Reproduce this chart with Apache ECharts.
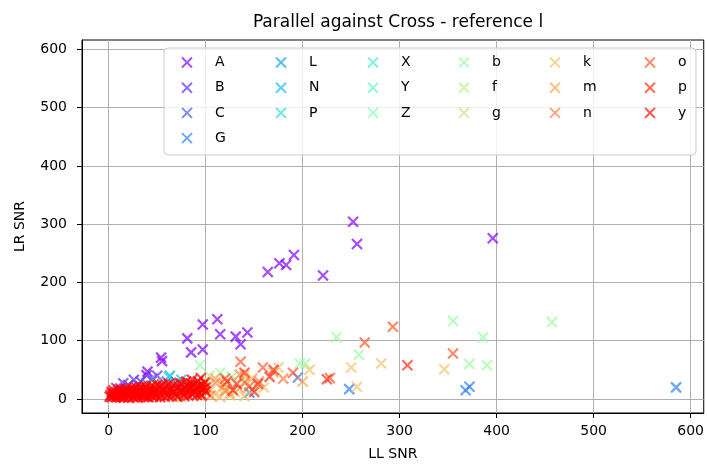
<!DOCTYPE html>
<html>
<head>
<meta charset="utf-8">
<script src="https://cdn.jsdelivr.net/npm/echarts@6/dist/echarts.min.js"></script>
<style>
  html, body { margin: 0; padding: 0; background: #fff; }
  #chart { width: 707px; height: 466px; }
</style>
</head>
<body>
<div id="chart"></div>
<script>
// Reference names in legend order (column-major, as in the legend)
const names = ['A','B','C','G','L','N','P','X','Y','Z','b','f','g','k','m','n','o','p','y'];
const legendColumns = [['A','B','C','G'], ['L','N','P'], ['X','Y','Z'], ['b','f','g'], ['k','m','n'], ['o','p','y']];

// Tick values
const xTicks = [0, 100, 200, 300, 400, 500, 600];
const yTicks = [0, 100, 200, 300, 400, 500, 600];

// [LL SNR, LR SNR] pairs per reference
const A = [[252,304],[256,266],[396,276],[164,218],[176,233],[183,230],[191,247],[221,212],
           [97,128],[112,137],[115,111],[81,104],[85,80],[97,85],[131,107],[143,114],[136,94],
           [54,71],[55,65],[40,47],[39,41]];
const B = [[26,33],[15,27],[50,40],[8,19],[20,24],[33,30]];
const C = [[45,35],[30,24],[12,14],[60,30]];
const G = [[248,17],[368,15],[372,21],[585,20],[195,37],[145,11],[70,28]];
const L = [[63,40],[40,25],[18,10]];
const N = [[75,33],[28,15]];
const P = [[62,38],[85,25],[5,8]];
const X = [[50,25],[22,12]];
const Y = [[70,20],[35,14]];
const Z = [[92,32],[45,20]];
const b = [[355,134],[457,132],[386,106],[235,106],[258,76],[372,60],[390,58],[197,61],[203,61],
           [94,58],[115,45],[127,38]];
const f = [[104,40],[140,30],[80,22],[60,15]];
const g = [[120,20],[95,10],[150,15]];
const k = [[250,54],[281,61],[346,51],[256,21],[175,54],[207,50],[88,10],[110,8],[130,12],[70,5],
           [160,20],[140,40],[100,30],[75,3],[95,4],[115,3],[125,6],[140,5],[105,15],[118,22],[65,8]];
const m = [[120,25],[148,35],[170,45],[90,18],[60,12],[200,30],[100,12],[125,10],[135,18],[110,35],[78,8]];
const n = [[135,42],[155,30],[110,28],[180,35],[85,20],[95,25],[120,14],[105,6],[140,28]];
const o = [[293,124],[264,97],[355,78],[228,36],[136,64],[159,54],[120,35],[145,22],[190,45]];
const p = [[308,58],[225,34],[140,45],[154,26],[166,38],[122,30],[132,26],[100,20],[170,50],
           [150,12],[128,15]];
const y = [[1,4],[2,7],[3,3],[4,9],[5,5],[6,11],[7,4],[8,8],[9,12],[10,5],[11,9],[12,3],[13,13],
           [14,7],[15,10],[16,4],[17,14],[18,8],[19,6],[20,12],[21,15],[22,5],[23,9],[24,13],
           [25,4],[26,16],[27,8],[28,11],[29,6],[30,14],[31,17],[32,9],[33,5],[34,12],[35,15],
           [36,7],[37,18],[38,10],[39,4],[40,13],[41,16],[42,8],[43,19],[44,6],[45,11],[46,14],
           [47,20],[48,9],[49,5],[50,16],[52,12],[53,21],[54,7],[56,14],[57,18],[58,10],[60,22],
           [61,6],[63,15],[64,19],[66,11],[67,24],[69,8],[70,17],[72,21],[74,13],[75,26],[77,9],
           [79,18],[81,23],[83,14],[85,27],[88,11],[90,20],[92,30],[95,16],[97,24],[100,13],
           [3,12],[5,15],[8,3],[10,16],[12,18],[15,2],[18,17],[20,2],[23,19],[26,3],[28,20],[30,2],
           [33,21],[36,3],[38,22],[41,3],[44,23],[46,4],[50,24],[53,3],[55,25],[58,4],[62,26],[65,5],
           [68,14],[71,4],[73,28],[76,16],[78,5],[80,12],[82,6],[84,19],[86,8],[87,24],[89,14],
           [91,7],[93,22],[94,10],[96,6],[98,18],[99,28],[86,33],[95,36],[80,30]];

const pointsByName = { A, B, C, G, L, N, P, X, Y, Z, b, f, g, k, m, n, o, p, y };

// Colours sampled from the "rainbow" colormap, one per reference
const colors = ['#8000ff','#632cfe','#4757fb','#2b80f6','#0ea4f0','#0ec3e7','#2bdddd','#47f0d1',
                '#63fbc3','#80ffb4','#9cfba4','#b8f092','#d5dd80','#f1c36c','#ffa457','#ff8042',
                '#ff572c','#ff2c16','#ff0000'];

const FONT = 'DejaVu Sans';
const CROSS = 'path://M0,0L10,10M0,10L10,0';

const series = names.map((name, i) => ({
  name,
  type: 'scatter',
  data: pointsByName[name],
  symbol: CROSS,
  symbolSize: 10,
  itemStyle: { color: colors[i], borderColor: colors[i], borderWidth: 2.2, opacity: 0.7 },
  emphasis: { disabled: true },
  z: 3
}));

const iconX = [186, 280, 372, 463, 554, 649];
const legends = legendColumns.map((col, ci) => ({
  data: col,
  orient: 'vertical',
  left: iconX[ci] - 10,
  top: 50,
  itemWidth: 10,
  itemHeight: 10,
  itemGap: 10.2,
  selectedMode: false,
  symbolKeepAspect: true,
  textStyle: { fontFamily: FONT, fontSize: 14, color: '#000', lineHeight: 15, padding: [0, 0, 0, 18] },
  z: 6
}));

const axisCommon = {
  type: 'value',
  axisLine: { show: true, onZero: false, lineStyle: { color: '#000', width: 1 } },
  axisTick: { show: true, inside: false, length: 5, lineStyle: { color: '#000', width: 1 } },
  splitLine: { show: true, lineStyle: { color: '#b0b0b0', width: 1 } },
  nameLocation: 'middle',
  nameTextStyle: { fontFamily: FONT, fontSize: 14, color: '#000' }
};

const chart = echarts.init(document.getElementById('chart'));
chart.setOption({
  animation: false,
  backgroundColor: '#fff',
  title: {
    text: 'Parallel against Cross - reference l',
    left: 393,
    top: 9,
    textAlign: 'center',
    textStyle: { fontFamily: FONT, fontSize: 17, fontWeight: 'normal', color: '#000' }
  },
  grid: { left: 82, right: 3, top: 40, bottom: 53, show: true, borderColor: '#000', borderWidth: 1, backgroundColor: 'transparent' },
  xAxis: Object.assign({}, axisCommon, {
    min: -27.5, max: 613.5,
    name: 'LL SNR', nameGap: 34,
    axisTick: Object.assign({}, axisCommon.axisTick, { customValues: xTicks }),
    axisLabel: { customValues: xTicks, margin: 11, fontFamily: FONT, fontSize: 14, color: '#000' }
  }),
  yAxis: Object.assign({}, axisCommon, {
    min: -24, max: 616,
    name: 'LR SNR', nameGap: 55,
    axisTick: Object.assign({}, axisCommon.axisTick, { customValues: yTicks }),
    axisLabel: { customValues: yTicks, margin: 15, fontFamily: FONT, fontSize: 14, color: '#000' }
  }),
  legend: legends,
  graphic: [{
    type: 'rect',
    shape: { x: 164, y: 48, width: 532, height: 107, r: 4 },
    style: { fill: 'rgba(255,255,255,0.8)', stroke: '#cccccc', lineWidth: 1 },
    z: 5,
    silent: true
  }],
  series
});
</script>
</body>
</html>
